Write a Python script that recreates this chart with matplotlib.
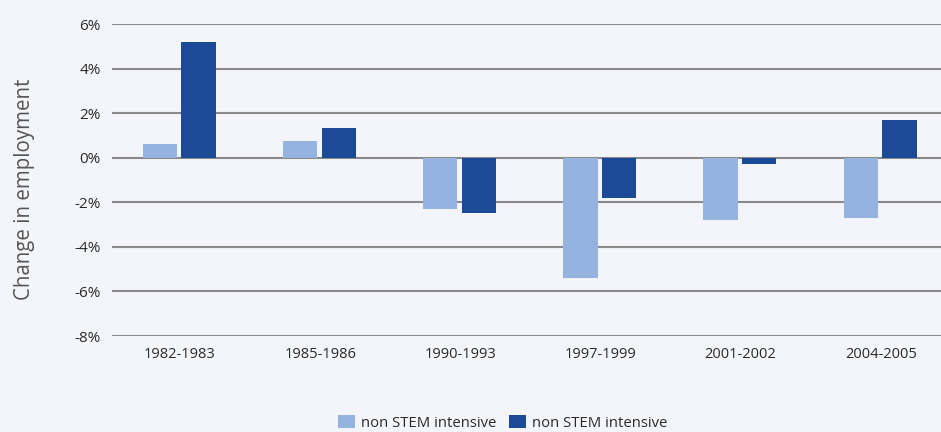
import matplotlib
matplotlib.use("Agg")
import matplotlib.pyplot as plt
import matplotlib.ticker as ticker
import numpy as np

periods = ["1982-1983", "1985-1986", "1990-1993", "1997-1999", "2001-2002", "2004-2005"]
light_vals = [0.6, 0.75, -2.3, -5.4, -2.8, -2.7]
dark_vals = [5.2, 1.35, -2.5, -1.8, -0.3, 1.7]
series_names = ["non STEM intensive", "non STEM intensive"]

bg = "#f4f5fa"
light_col = "#95b3df"
dark_col = "#1b4a96"

plt.rcParams["font.family"] = ["Open Sans", "DejaVu Sans"]

fig = plt.figure(figsize=(9.41, 4.32), dpi=100, facecolor=bg)
ax = fig.add_axes([112 / 941, 1 - 336 / 432, 1 - 112 / 941, (336 - 24) / 432])
ax.set_facecolor(bg)

x = np.arange(len(periods))
w = 0.245
ax.bar(x - 0.143, light_vals, w, color=light_col, label=series_names[0], zorder=3)
ax.bar(x + 0.133, dark_vals, w, color=dark_col, label=series_names[1], zorder=3)

ax.set_ylim(-8, 6)
ax.set_xlim(-0.485, 5.43)
ax.set_yticks(np.arange(-8, 7, 2))
ax.yaxis.set_major_formatter(ticker.FuncFormatter(lambda v, p: f"{int(v)}%"))
ax.grid(axis="y", color="#8a8a8a", linewidth=1.5, zorder=1)
ax.set_xticks(x)
ax.set_xticklabels(periods)
ax.tick_params(length=0, labelsize=10.5, colors="#2a2a2a")
ax.tick_params(axis="y", pad=8, labelsize=11)
ax.tick_params(axis="x", pad=8)
for s in ax.spines.values():
    s.set_visible(False)

fig.text(25 / 941, 1 - 189 / 432, "Change in employment", rotation=90,
         ha="center", va="center", fontsize=14.8, color="#555555")

fig.legend(loc="center", bbox_to_anchor=(503 / 941, 1 - 423 / 432), ncol=2,
           frameon=False, fontsize=10.7, handlelength=1.1, handleheight=1.0,
           handletextpad=0.45, columnspacing=0.85, labelcolor="#2a2a2a")

fig.savefig("out.png", dpi=100, facecolor=bg)
